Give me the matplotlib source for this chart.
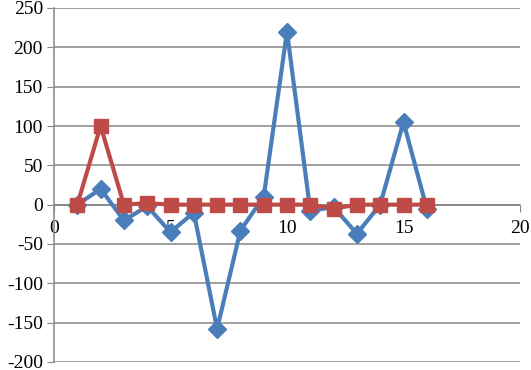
import matplotlib.pyplot as plt

# Data
x = list(range(1, 17))
blue = [0, 20, -20, -2, -35, -10, -158, -33, 10, 220, -8, -3, -37, 0, 105, -5]
red = [0, 100, 0, 2, 0, 0, 0, 0, 0, 0, 0, -5, 0, 0, 0, 0]
x_ticks = [0, 5, 10, 15, 20]
y_ticks = list(range(-200, 251, 50))

plt.rcParams["font.family"] = ["Liberation Serif", "DejaVu Serif"]
plt.rcParams["axes.unicode_minus"] = False

fig = plt.figure(figsize=(5.31, 3.70), dpi=100)
ax = fig.add_axes([54 / 531, 8 / 370, (520 - 54) / 531, (362 - 8) / 370])

grid_c = "#868686"
ax.set_xlim(0, 20)
ax.set_ylim(-200, 250)
ax.set_yticks(y_ticks)
ax.set_xticks(x_ticks)
ax.yaxis.grid(True, color=grid_c, linewidth=1.1)
ax.set_axisbelow(True)

for s in ["top", "right"]:
    ax.spines[s].set_visible(False)
ax.spines["left"].set_color(grid_c)
ax.spines["bottom"].set_position(("data", 0))
ax.spines["bottom"].set_color(grid_c)
ax.spines["bottom"].set_linewidth(1.1)
ax.spines["left"].set_linewidth(1.1)

ax.tick_params(axis="y", direction="out", length=5, color=grid_c, labelsize=14, pad=3)
ax.tick_params(axis="x", direction="out", length=5, color=grid_c, labelsize=14, pad=6)

ax.plot(x, blue, color="#4A7EBB", linewidth=3, marker="D", markersize=9, zorder=3)
ax.plot(x, red, color="#BE4B48", linewidth=3, marker="s", markersize=10, zorder=4)

fig.savefig("out.png", dpi=100)
plt.close(fig)
